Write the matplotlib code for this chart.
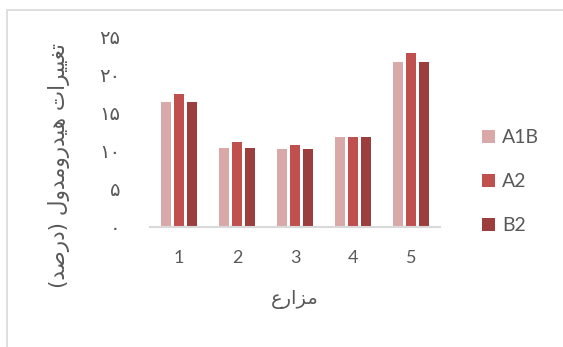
import numpy as np
import matplotlib.pyplot as plt
from matplotlib.patches import Rectangle

# داده‌ها: درصد تغییرات هیدرومدول برای هر مزرعه و هر سناریو
farms = ['1', '2', '3', '4', '5']
a1b = [16.4, 10.4, 10.2, 11.8, 21.7]
a2 = [17.5, 11.1, 10.7, 11.8, 22.8]
b2 = [16.4, 10.4, 10.2, 11.8, 21.7]
series_names = ['A1B', 'A2', 'B2']
colors = ['#D9A9A9', '#C0504D', '#9B3E3D']

yticks = [0, 5, 10, 15, 20, 25]
# ارقام فارسی برای برچسب‌های محور عمودی
fa_digits = '۰۱۲۳۴۵۶۷۸۹'
ytick_labels = [''.join(fa_digits[int(c)] for c in str(v)) for v in yticks]

# متن‌های فارسی به صورت حروف شکل‌دار و به ترتیب نمایشی (چپ به راست)
xlabel_text = '\uFEC9\uFEAD\uFE8D\uFEB0\uFEE3'  # مزارع
ylabel_text = ('(' + '\uFEAA\uFEBB\uFEAD\uFEA9' + ')' + ' '
               + '\uFEDD\uFEED\uFEAA\uFEE3\uFEED\uFEAD\uFEAA\uFEF4\uFEEB' + ' '
               + '\uFE95\uFE8D\uFEAE\uFEF4\uFEF4\uFED0\uFE97')

latin = ['Lato', 'DejaVu Sans']
arabic = ['DejaVu Sans']
grey = '#595959'

fig = plt.figure(figsize=(5.63, 3.47), dpi=100)
ax = fig.add_axes([150 / 563, 120.3 / 347, 290 / 563, 190 / 347])

x = np.arange(1, len(farms) + 1)
w = 0.172
off = 0.224
for i, vals in enumerate([a1b, a2, b2]):
    ax.bar(x + (i - 1) * off, vals, width=w, color=colors[i],
           label=series_names[i], zorder=2)

ax.set_xlim(0.5, 5.5)
ax.set_ylim(0, 25)
ax.set_xticks(x)
ax.set_xticklabels(farms, family=latin, fontsize=13, color=grey)
ax.set_yticks(yticks)
ax.set_yticklabels(ytick_labels, family=arabic, fontsize=14, color=grey)
ax.tick_params(axis='both', length=0)
ax.tick_params(axis='y', pad=21.5)
ax.tick_params(axis='x', pad=17)

for side in ['top', 'right', 'left']:
    ax.spines[side].set_visible(False)
ax.spines['bottom'].set_color('#D9D9D9')
ax.spines['bottom'].set_linewidth(1.5)

ax.set_xlabel(xlabel_text, family=arabic, fontsize=14, color=grey, labelpad=17)
ax.set_ylabel(ylabel_text, family=arabic, fontsize=15.5, color=grey)
ax.yaxis.set_label_coords(-0.275, 0.32)

leg = ax.legend(loc='center left', bbox_to_anchor=(1.086, 0.237), frameon=False,
                prop={'family': latin, 'size': 14}, labelspacing=1.4,
                handlelength=0.67, handleheight=0.67, handletextpad=0.35)
for t in leg.get_texts():
    t.set_color(grey)

# کادر خاکستری دور ناحیه نمودار
fig.patches.append(Rectangle((7 / 563, -0.1), 1.2, 1.1 - 10 / 347,
                             transform=fig.transFigure, fill=False,
                             edgecolor='#D9D9D9', linewidth=1.2))

fig.savefig('out.png', dpi=100)
